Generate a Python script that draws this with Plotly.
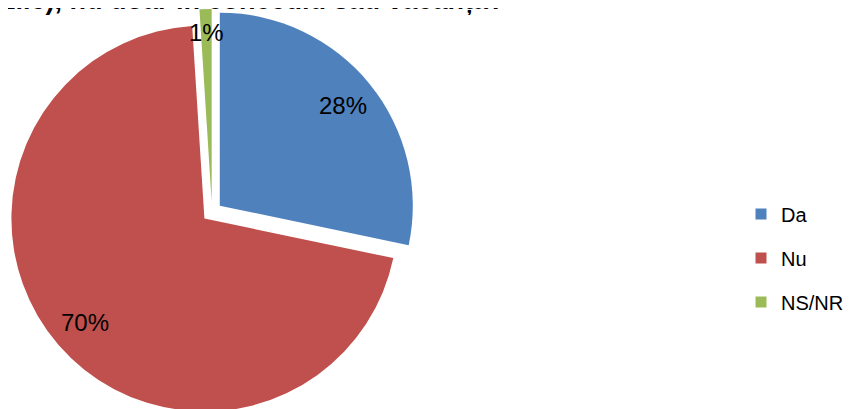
import math
import plotly.graph_objects as go

# ---- data ----
labels = ["Da", "Nu", "NS/NR"]
values = [28, 70, 1]
colors = ["#4F81BD", "#C0504D", "#9BBB59"]
title_text = "zile), nu doar în concediu sau vacanța?"

# ---- geometry (figure pixels) ----
W, H = 847, 420
PULL = 0.052
cx, cy, R = 204, 204, 193
half = R * (1 + PULL)
dom_x = [max(0, (cx - half) / W), (cx + half) / W]
dom_y = [1 - (cy + half) / H, min(1, 1 - (cy - half) / H)]

FONT = "Liberation Sans, Arial, sans-serif"

fig = go.Figure()
fig.add_trace(go.Pie(
    labels=labels, values=values,
    marker=dict(colors=colors, line=dict(width=0)),
    sort=False, direction="clockwise", rotation=0,
    pull=[PULL] * len(values),
    textinfo="none", showlegend=False,
    domain=dict(x=dom_x, y=dom_y),
))

# legend entries (one group per item to control spacing)
for lab, col in zip(labels, colors):
    fig.add_trace(go.Scatter(
        x=[None], y=[None], mode="markers", name=lab, legendgroup=lab,
        marker=dict(symbol="square", size=11, color=col),
    ))

# data labels placed along each slice's mid angle
total = sum(values)
cum = 0
annotations = []
for v in values:
    mid = math.radians((cum + v / 2) / total * 360)
    cum += v
    k = 0.88 if v / total < 0.05 else 0.82
    vx = cx + PULL * R * math.sin(mid)
    vy = cy - PULL * R * math.cos(mid)
    px = vx + k * R * math.sin(mid)
    py = vy - k * R * math.cos(mid)
    annotations.append(dict(
        x=px / W, y=1 - py / H, xref="paper", yref="paper",
        text=f"{v}%", showarrow=False, xanchor="center", yanchor="middle",
        font=dict(size=24, color="#000000", family=FONT),
    ))

annotations.append(dict(
    x=-8 / W, y=1 - 9 / H, xref="paper", yref="paper", xanchor="left", yanchor="bottom",
    text=f"<b>{title_text}</b>", showarrow=False,
    font=dict(size=27, color="#000000", family=FONT),
))

fig.update_layout(
    width=W, height=H,
    margin=dict(l=0, r=0, t=0, b=0),
    paper_bgcolor="white", plot_bgcolor="white",
    font=dict(family=FONT, color="#000000"),
    xaxis=dict(visible=False), yaxis=dict(visible=False),
    showlegend=True,
    legend=dict(x=733 / W, xanchor="left", y=1 - 250 / H, yanchor="middle",
                font=dict(size=20, family=FONT), tracegroupgap=15,
                bgcolor="rgba(0,0,0,0)", itemwidth=30),
    annotations=annotations,
)

fig.write_html("out.html")
